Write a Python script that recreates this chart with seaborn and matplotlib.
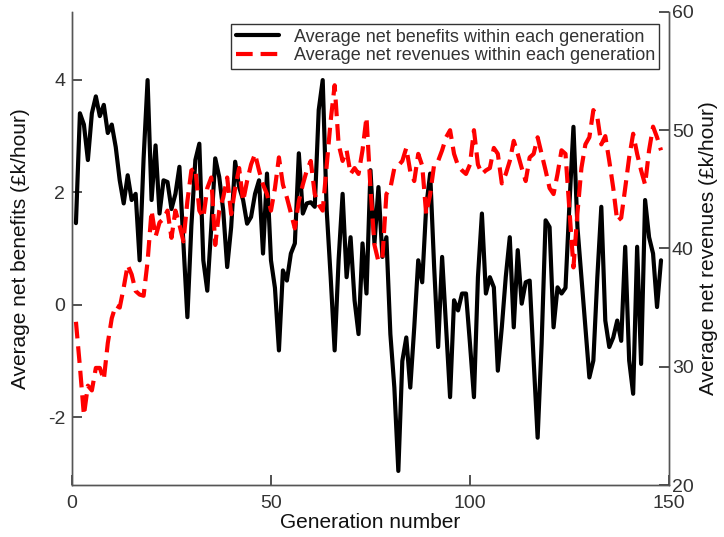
import numpy as np
import pandas as pd
import matplotlib
matplotlib.use("Agg")
import matplotlib.pyplot as plt
import seaborn as sns

generations = list(range(1, 149))

net_benefits = [
    1.45, 3.40, 3.20, 2.57, 3.40, 3.70, 3.35, 3.55, 3.05, 3.20,
    2.80, 2.21, 1.80, 2.30, 1.86, 1.97, 0.79, 2.60, 3.99, 1.86,
    2.83, 1.62, 2.21, 2.18, 1.70, 1.97, 2.45, 1.09, -0.22, 1.40,
    2.57, 2.86, 0.79, 0.25, 1.38, 2.60, 2.27, 1.68, 0.67, 1.38,
    2.54, 2.09, 1.86, 1.44, 1.56, 1.97, 2.21, 0.91, 2.33, 0.79,
    0.30, -0.81, 0.61, 0.43, 0.91, 1.09, 2.69, 1.62, 1.80, 1.82,
    1.74, 3.46, 3.99, 1.68, 0.49, -0.81, 0.80, 1.97, 0.49, 1.20,
    0.08, -0.52, 1.09, 0.20, 2.39, 1.09, 2.09, 0.85, 1.20, -0.52,
    -1.47, -2.95, -1.00, -0.58, -1.47, -0.40, 0.79, 0.40, 1.74, 2.33,
    0.67, -0.75, 0.85, -0.40, -1.64, 0.08, -0.10, 0.20, 0.20, -0.69,
    -1.64, 0.49, 1.62, 0.20, 0.49, 0.31, -1.17, -0.40, 0.50, 1.20,
    -0.40, 0.97, 0.02, 0.40, 0.43, -0.99, -2.36, -0.69, 1.50, 1.38,
    -0.40, 0.31, 0.20, 0.30, 1.80, 3.16, 1.38, 0.49, -0.40, -1.29,
    -0.99, 0.49, 1.74, -0.28, -0.75, -0.58, -0.28, -0.64, 1.03, -0.99,
    -1.58, 1.03, -1.05, 1.86, 1.20, 0.91, -0.04, 0.79,
]

net_revenues = [
    33.8, 30.0, 25.9, 28.4, 28.0, 29.9, 29.9, 28.9, 32.0, 34.1,
    35.2, 35.0, 36.7, 38.6, 37.8, 36.4, 36.1, 36.0, 38.9, 43.2,
    41.0, 42.2, 42.5, 43.2, 40.9, 43.2, 42.0, 40.6, 44.0, 46.6,
    46.8, 43.2, 42.6, 45.1, 46.0, 40.3, 43.2, 44.3, 46.0, 42.9,
    45.1, 46.8, 44.0, 45.7, 47.1, 48.0, 46.6, 45.4, 44.6, 43.2,
    45.1, 47.7, 45.4, 44.3, 43.0, 41.7, 44.0, 45.4, 46.6, 47.4,
    44.6, 43.7, 43.2, 47.0, 50.8, 53.8, 48.8, 47.4, 48.3, 46.3,
    46.8, 46.3, 48.3, 51.1, 45.1, 40.3, 38.9, 39.2, 44.6, 45.1,
    46.8, 47.0, 47.4, 48.5, 46.5, 45.7, 48.0, 47.0, 42.9, 44.6,
    47.1, 47.4, 48.3, 49.4, 50.0, 48.0, 47.0, 46.6, 46.3, 47.1,
    50.0, 47.1, 46.3, 46.6, 46.8, 48.5, 48.0, 45.5, 46.3, 47.4,
    49.1, 48.0, 46.8, 45.7, 47.7, 48.0, 49.4, 48.0, 46.6, 45.1,
    44.6, 46.3, 48.3, 48.0, 43.2, 38.4, 43.0, 46.8, 48.8, 49.4,
    51.7, 51.1, 48.8, 49.5, 47.4, 45.1, 42.3, 42.6, 45.1, 47.7,
    49.7, 48.0, 46.6, 45.4, 48.3, 50.3, 49.4, 48.3,
]

x_ticks = [0, 50, 100, 150]
left_ticks = [-2, 0, 2, 4]
right_ticks = [20, 30, 40, 50, 60]

label_benefits = "Average net benefits within each generation"
label_revenues = "Average net revenues within each generation"

df = pd.DataFrame({"gen": generations, "benefits": net_benefits, "revenues": net_revenues})

sns.set_theme(style="ticks")
plt.rcParams.update({
    "font.family": ["Liberation Sans", "DejaVu Sans"],
    "axes.unicode_minus": False,
    "xtick.direction": "in",
    "ytick.direction": "in",
    "xtick.major.size": 7,
    "ytick.major.size": 7,
    "xtick.major.width": 1.2,
    "ytick.major.width": 1.2,
    "xtick.color": "#333333",
    "ytick.color": "#333333",
})

fig = plt.figure(figsize=(7.24, 5.37), dpi=100)
ax = fig.add_axes([0.0994, 0.0968, 0.8246, 0.881])
ax2 = ax.twinx()

sns.lineplot(data=df, x="gen", y="benefits", ax=ax, color="black", linewidth=3.0,
             label=label_benefits, legend=False)
sns.lineplot(data=df, x="gen", y="revenues", ax=ax2, color="#ff0000", linewidth=3.0,
             label=label_revenues, legend=False)
ax2.lines[0].set_dashes([4.0, 1.9])

ax.set_xlim(0, 150)
ax.set_ylim(-3.2, 5.2)
ax2.set_ylim(20, 60)
ax.set_xticks(x_ticks)
ax.set_yticks(left_ticks)
ax2.set_yticks(right_ticks)

spine_col = "#555555"
for a in (ax, ax2):
    for s in a.spines.values():
        s.set_color(spine_col)
        s.set_linewidth(1.0)
    a.spines["top"].set_visible(False)
    a.grid(False)

ax.tick_params(axis="x", which="major", bottom=True, top=False, direction="in",
               length=7, width=1.2, color="#333333", labelsize=14, pad=7)
ax.tick_params(axis="y", which="major", left=True, right=False, direction="in",
               length=7, width=1.2, color="#333333", labelsize=14, pad=5)
ax2.tick_params(axis="y", which="major", right=True, left=False, direction="in",
                length=7, width=1.2, color="#333333", labelsize=14, pad=2)

for t in ax.xaxis.get_major_ticks() + ax.yaxis.get_major_ticks():
    t.tick1line.set_visible(True)
    t.tick1line.set_markersize(7)
    t.tick1line.set_markeredgecolor("#333333")
for t in ax2.yaxis.get_major_ticks():
    t.tick2line.set_visible(True)
    t.tick2line.set_markersize(7)
    t.tick2line.set_markeredgecolor("#333333")

ax.set_xlabel("Generation number", fontsize=15, labelpad=1, color="#111111")
ax.set_ylabel("Average net benefits (£k/hour)", fontsize=15, labelpad=13, color="#111111")
ax2.set_ylabel("Average net revenues (£k/hour)", fontsize=15, labelpad=4, color="#111111")

handles = ax.get_lines()[:1] + ax2.get_lines()[:1]
leg = ax2.legend(handles, [label_benefits, label_revenues], loc="upper right",
                 bbox_to_anchor=(0.99, 0.982), fontsize=13, frameon=True,
                 fancybox=False, edgecolor="black", borderpad=0.25,
                 handlelength=2.4, handletextpad=0.8, labelspacing=0.08,
                 borderaxespad=0.2)
leg.get_frame().set_linewidth(1.0)
for t in leg.get_texts():
    t.set_color("#333333")

fig.savefig("out.png", dpi=100)
